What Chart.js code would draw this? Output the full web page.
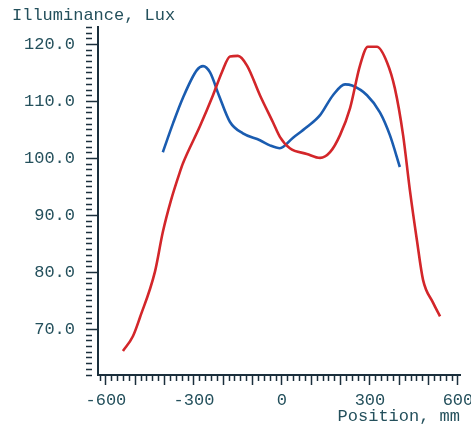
<!DOCTYPE html>
<html>
<head>
<meta charset="utf-8">
<script src="https://cdn.jsdelivr.net/npm/chart.js@4/dist/chart.umd.min.js"></script>
<style>
  html, body { margin: 0; padding: 0; background: #ffffff; }
  #wrap { width: 471px; height: 425px; }
</style>
</head>
<body>
<div id="wrap"><canvas id="c" width="471" height="425"></canvas></div>
<script>
// Illuminance profiles across the measured span (position in mm, illuminance in lux)
const redPositions = [-542, -508, -484, -433, -406, -378, -348, -337, -280, -235, -205, -177, -150, -119, -75, -31, -7, 27, 85, 130, 164, 198, 232, 266, 293, 324, 358, 385, 413, 436, 460, 481, 515, 539];
const redValues    = [66.2, 68.8, 72.1, 80.1, 87.1, 92.7, 97.6, 99.2, 105.6, 111.1, 115.1, 117.9, 118.0, 116.3, 111.1, 106.4, 103.8, 101.8, 100.8, 100.1, 101.1, 104.1, 108.8, 116.3, 119.6, 119.6, 116.9, 112.3, 104.1, 94.5, 85.7, 78.7, 74.7, 72.3];

const bluePositions = [-406, -371, -337, -290, -269, -245, -215, -177, -133, -75, -41, -7, 37, 85, 130, 174, 215, 239, 290, 334, 368, 402];
const blueValues    = [101.1, 106.2, 110.7, 115.5, 116.2, 115.1, 111.1, 106.4, 104.4, 103.2, 102.3, 101.8, 103.6, 105.5, 107.6, 111.1, 113.0, 112.8, 111.1, 108.1, 104.1, 98.5];

// Axis ranges and label steps
const xRange = [-627, 607];
const yRange = [62, 123];
const xLabelStep = 300, xMajorStep = 100, xMinorStep = 20;
const yLabelStep = 10, yMinorStep = 1;

const axisColor = '#1b2f3c';
const textColor = '#24505c';
const monoFont = { family: "'Liberation Mono', 'DejaVu Sans Mono', monospace", size: 17, weight: 'normal' };

const toPoints = (xs, ys) => xs.map((x, i) => ({ x: x, y: ys[i] }));
const isMultiple = (v, step) => Math.abs(Math.round(v) % step) === 0;

new Chart(document.getElementById('c'), {
  type: 'line',
  data: {
    datasets: [
      {
        data: toPoints(redPositions, redValues),
        borderColor: '#d3262a',
        borderWidth: 2.6,
        pointRadius: 0,
        cubicInterpolationMode: 'monotone'
      },
      {
        data: toPoints(bluePositions, blueValues),
        borderColor: '#1a5cb0',
        borderWidth: 2.6,
        pointRadius: 0,
        cubicInterpolationMode: 'monotone'
      }
    ]
  },
  options: {
    responsive: false,
    animation: false,
    devicePixelRatio: 1,
    layout: { padding: { left: 12, right: 11, top: 0, bottom: 0 } },
    plugins: {
      legend: { display: false },
      tooltip: { enabled: false },
      title: {
        display: true,
        text: 'Illuminance, Lux',
        align: 'start',
        color: textColor,
        font: monoFont,
        padding: { top: 5, bottom: 2 }
      }
    },
    scales: {
      x: {
        type: 'linear',
        min: xRange[0],
        max: xRange[1],
        border: { display: true, color: axisColor, width: 2 },
        grid: {
          drawOnChartArea: false,
          color: axisColor,
          tickColor: axisColor,
          tickLength: 10,
          tickWidth: 1.5,
          tickBorderDash: ctx => isMultiple(ctx.tick.value, xMajorStep) ? [] : [5, 40]
        },
        ticks: {
          stepSize: xMinorStep,
          includeBounds: false,
          autoSkip: false,
          maxRotation: 0,
          padding: 5,
          color: textColor,
          font: monoFont,
          callback: v => isMultiple(v, xLabelStep) ? String(Math.round(v)) : ''
        },
        title: {
          display: true,
          text: 'Position, mm',
          align: 'end',
          color: textColor,
          font: Object.assign({}, monoFont, { lineHeight: 1 }),
          padding: { top: 0, bottom: 0 }
        },
        afterFit: s => { s.height = 50; s.paddingLeft = 0; s.paddingRight = 0; }
      },
      y: {
        type: 'linear',
        min: yRange[0],
        max: yRange[1],
        border: { display: true, color: axisColor, width: 2 },
        grid: {
          drawOnChartArea: false,
          color: axisColor,
          tickColor: axisColor,
          tickLength: 12,
          tickWidth: 1.5,
          tickBorderDash: ctx => isMultiple(ctx.tick.value, yLabelStep) ? [] : [6, 40]
        },
        ticks: {
          stepSize: yMinorStep,
          includeBounds: false,
          autoSkip: false,
          padding: 11,
          color: textColor,
          font: monoFont,
          callback: v => isMultiple(v, yLabelStep) ? v.toFixed(1) : ''
        },
        afterFit: s => { s.width = 86; s.paddingTop = 0; s.paddingBottom = 0; }
      }
    }
  }
});
</script>
</body>
</html>
